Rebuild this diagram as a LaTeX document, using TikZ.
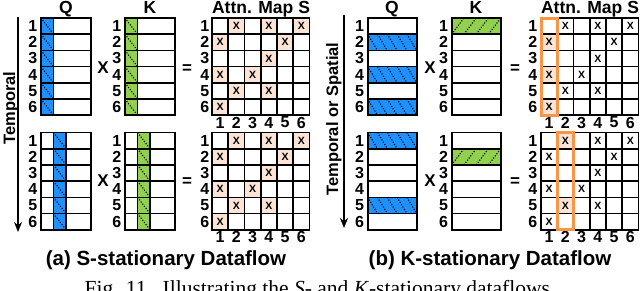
\documentclass[tikz,border=0pt]{standalone}
\usepackage{fontspec}
\setmainfont{Liberation Sans}
\newfontfamily\serifcap{Liberation Serif}
\usetikzlibrary{arrows.meta}

\definecolor{bleuQ}{RGB}{30,144,255}
\definecolor{vertK}{RGB}{146,208,80}
\definecolor{peche}{RGB}{251,228,213}
\definecolor{orangeS}{RGB}{247,150,70}

\tikzset{
  grille/.style={line width=1.6pt, line cap=rect},
  hachure/.style={line width=1.1pt, dash pattern=on 1.1pt off 1.6pt},
  num/.style={inner sep=0pt, font=\fontsize{16}{16}\selectfont\bfseries},
  entete/.style={inner sep=0pt, anchor=base, font=\fontsize{17.5}{17.5}\selectfont\bfseries},
  croix/.style={inner sep=0pt, font=\fontsize{10.5}{10.5}\selectfont\bfseries},
  operateur/.style={inner sep=0pt, font=\fontsize{17}{17}\selectfont\bfseries},
  cadre/.style={line width=3pt, orangeS},
  axe/.style={line width=1.5pt, -{Stealth[length=10pt, width=8pt]}},
  axetexte/.style={inner sep=0pt, anchor=base, rotate=90, font=\fontsize{16.5}{16.5}\selectfont\bfseries},
  titre/.style={inner sep=0pt, anchor=base, font=\fontsize{20.5}{20.5}\selectfont\bfseries},
}

\begin{document}
\begin{tikzpicture}[x=1pt, y=-1pt]
    \useasboundingbox (0,0) rectangle (640,290);

    % (a) vecteurs Q et K : une colonne coloree
    \foreach \yo/\cl/\p in {18/0/h, 132.5/1/b}{
        \foreach \bx/\col/\nom in {41/bleuQ/q, 125/vertK/k}{
            \foreach \rg in {1,...,6}{
                \fill[\col] (\bx+12.5*\cl, \yo+16.2*\rg-16.2) rectangle ++(12.5,16.2);
                \draw[hachure] (\bx+12.5*\cl, \yo+16.2*\rg-16.2) -- ++(12.5,16.2);
                \draw[grille] (\bx, \yo+16.2*\rg-16.2) rectangle ++(50,16.2);
                \draw[grille] (\bx+12.5*\cl, \yo+16.2*\rg-16.2) rectangle ++(12.5,16.2);
                \node[num, anchor=east] (a\nom\p\rg) at (\bx-3.5, \yo+16.2*\rg-8.1) {\rg};
            }
        }
    }

    % (b) vecteurs Q et K : des lignes colorees
    \foreach \yo/\rg in {18/2, 18/4, 18/6, 132.5/1, 132.5/5}{
        \fill[bleuQ] (367.7, \yo+16.2*\rg-16.2) rectangle ++(49,16.2);
        \foreach \i in {0,...,4}
            \draw[hachure] (367.7+9.8*\i, \yo+16.2*\rg-16.2) -- ++(9.8,16.2);
    }
    \foreach \yo/\rg in {18/1, 132.5/2}{
        \fill[vertK] (451.7, \yo+16.2*\rg-16.2) rectangle ++(49,16.2);
        \foreach \i in {0,...,3}
            \draw[hachure] (451.7+12.25*\i, \yo+16.2*\rg) -- ++(12.25,-16.2);
    }
    \foreach \yo/\p in {18/h, 132.5/b}{
        \foreach \bx/\nom in {367.7/q, 451.7/k}{
            \foreach \rg in {1,...,6}{
                \draw[grille] (\bx, \yo+16.2*\rg-16.2) rectangle ++(49,16.2);
                \node[num, anchor=east] (b\nom\p\rg) at (\bx-3.5, \yo+16.2*\rg-8.1) {\rg};
            }
        }
    }

    % cartes d'attention : cases ombrees
    \foreach \yo in {18, 132.5}{
        \foreach \rg/\cl in {1/2,1/4,1/6,2/1,2/5,3/4,4/1,4/3,5/2,5/4,6/1}
            \fill[peche] (212+16.25*\cl-16.25, \yo+16.2*\rg-16.2) rectangle ++(16.25,16.2);
    }
    \foreach \yo/\rg/\cl in {18/2/1, 18/4/1, 18/6/1, 132.5/1/2, 132.5/5/2}
        \fill[peche] (541+16.25*\cl-16.25, \yo+16.2*\rg-16.2) rectangle ++(16.25,16.2);

    % cartes d'attention : grilles, croix, numeros
    \foreach \mx/\g/\ecart in {212/a/2.5, 541/b/3.5}{
        \foreach \yo/\p in {18/h, 132.5/b}{
            \foreach \i in {0,...,6}{
                \draw[grille] (\mx+16.25*\i, \yo) -- ++(0,97.2);
                \draw[grille] (\mx, \yo+16.2*\i) -- ++(97.5,0);
            }
            \foreach \rg/\cl in {1/2,1/4,1/6,2/1,2/5,3/4,4/1,4/3,5/2,5/4,6/1}
                \node[croix] (x\g\p\rg\cl) at (\mx+16.25*\cl-8.125, \yo+16.2*\rg-8.1) {X};
            \foreach \i in {1,...,6}{
                \node[num, anchor=east] (l\g\p\i) at (\mx-\ecart, \yo+16.2*\i-8.1) {\i};
                \node[num] (c\g\p\i) at (\mx+16.25*\i-8.125, \yo+104.5) {\i};
            }
        }
    }

    % cadres orange (b)
    \draw[cadre] (541,18) rectangle ++(16.25,97.2);
    \draw[cadre] (557.25,132.5) rectangle ++(16.25,97.2);

    % en-tetes
    \foreach \qx/\kx/\sx/\g in {66/150/261/a, 392/476/590/b}{
        \node[entete] (q\g) at (\qx,13.5) {Q};
        \node[entete] (k\g) at (\kx,13.5) {K};
        \node[entete] (s\g) at (\sx,13.5) {Attn. Map S};
    }

    % operateurs
    \foreach \yo/\p in {67.6/h, 181/b}{
        \node[operateur] (foisa\p) at (103,\yo) {X};
        \node[operateur] (egala\p) at (187,\yo+1.5) {=};
        \node[operateur] (foisb\p) at (430,\yo) {X};
        \node[operateur] (egalb\p) at (515,\yo+1.5) {=};
    }

    % axes du temps
    \coordinate (debuta) at (18,17);
    \coordinate (fina) at (18,232);
    \draw[axe] (debuta) -- (fina);
    \node[axetexte] (tempa) at (15,108) {Temporal};
    \coordinate (debutb) at (344,15);
    \coordinate (finb) at (344,228);
    \draw[axe] (debutb) -- (finb);
    \node[axetexte] (tempb) at (338,119) {Temporal or Spatial};

    % sous-titres et legende
    \node[titre] (titrea) at (166,265) {(a) S-stationary Dataflow};
    \node[titre] (titreb) at (490,265) {(b) K-stationary Dataflow};
    \node[anchor=base, inner sep=0pt, font=\serifcap\fontsize{21.5}{21.5}\selectfont] (legende) at (320,295)
        {Fig. 11.\enspace Illustrating the \textit{S}- and \textit{K}-stationary dataflows.};

\end{tikzpicture}
\end{document}
